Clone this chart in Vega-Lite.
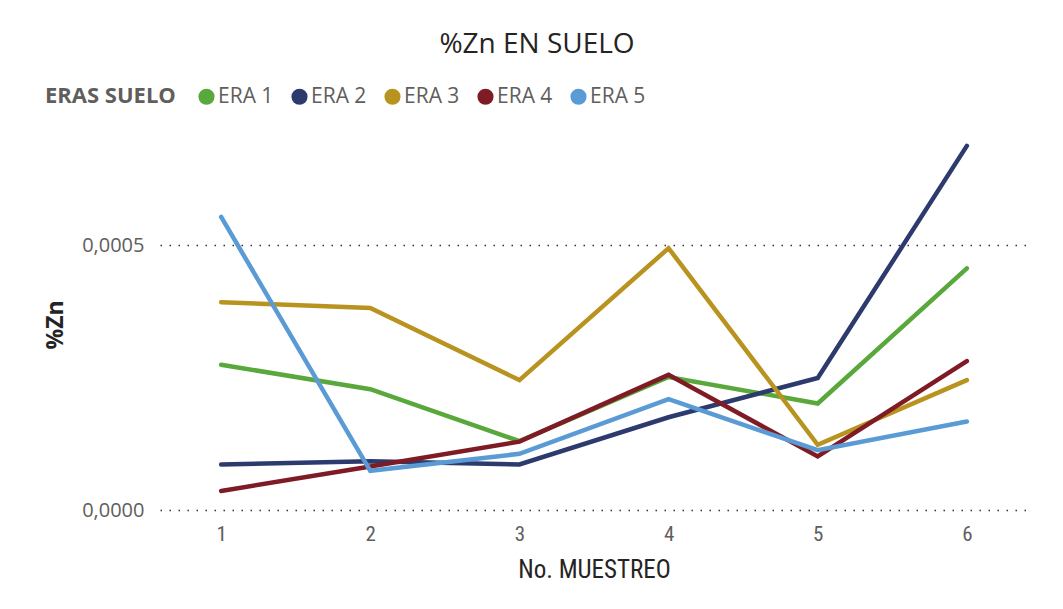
{
  "$schema": "https://vega.github.io/schema/vega-lite/v6.json",
  "width": 868,
  "height": 371,
  "autosize": {"type": "none"},
  "padding": {"left": 160, "top": 139, "right": 35, "bottom": 99},
  "background": "white",
  "title": {
    "text": "%Zn EN SUELO",
    "anchor": "middle",
    "dx": -57,
    "fontSize": 28,
    "font": "Open Sans",
    "fontWeight": "normal",
    "color": "#252423",
    "offset": 27
  },
  "data": {
    "values": [
      {"muestreo": "1", "era": "ERA 1", "zn": 0.000274},
      {"muestreo": "2", "era": "ERA 1", "zn": 0.000228},
      {"muestreo": "3", "era": "ERA 1", "zn": 0.000130},
      {"muestreo": "4", "era": "ERA 1", "zn": 0.000251},
      {"muestreo": "5", "era": "ERA 1", "zn": 0.000201},
      {"muestreo": "6", "era": "ERA 1", "zn": 0.000456},
      {"muestreo": "1", "era": "ERA 2", "zn": 0.000086},
      {"muestreo": "2", "era": "ERA 2", "zn": 0.000092},
      {"muestreo": "3", "era": "ERA 2", "zn": 0.000086},
      {"muestreo": "4", "era": "ERA 2", "zn": 0.000175},
      {"muestreo": "5", "era": "ERA 2", "zn": 0.000249},
      {"muestreo": "6", "era": "ERA 2", "zn": 0.000687},
      {"muestreo": "1", "era": "ERA 3", "zn": 0.000392},
      {"muestreo": "2", "era": "ERA 3", "zn": 0.000381},
      {"muestreo": "3", "era": "ERA 3", "zn": 0.000245},
      {"muestreo": "4", "era": "ERA 3", "zn": 0.000494},
      {"muestreo": "5", "era": "ERA 3", "zn": 0.000123},
      {"muestreo": "6", "era": "ERA 3", "zn": 0.000245},
      {"muestreo": "1", "era": "ERA 4", "zn": 0.000036},
      {"muestreo": "2", "era": "ERA 4", "zn": 0.000082},
      {"muestreo": "3", "era": "ERA 4", "zn": 0.000129},
      {"muestreo": "4", "era": "ERA 4", "zn": 0.000255},
      {"muestreo": "5", "era": "ERA 4", "zn": 0.000101},
      {"muestreo": "6", "era": "ERA 4", "zn": 0.000281},
      {"muestreo": "1", "era": "ERA 5", "zn": 0.000553},
      {"muestreo": "2", "era": "ERA 5", "zn": 0.000074},
      {"muestreo": "3", "era": "ERA 5", "zn": 0.000106},
      {"muestreo": "4", "era": "ERA 5", "zn": 0.000209},
      {"muestreo": "5", "era": "ERA 5", "zn": 0.000113},
      {"muestreo": "6", "era": "ERA 5", "zn": 0.000167}
    ]
  },
  "mark": {"type": "line", "strokeWidth": 4.5, "strokeCap": "round", "strokeJoin": "miter"},
  "encoding": {
    "x": {
      "field": "muestreo",
      "type": "ordinal",
      "scale": {"type": "point", "padding": 0.41},
      "axis": {
        "title": "No. MUESTREO",
        "labelAngle": 0,
        "domain": false,
        "ticks": false,
        "grid": false,
        "labelFontSize": 21,
        "labelColor": "#605E5C",
        "labelFont": "Liberation Sans Narrow, Roboto Condensed, Roboto",
        "labelPadding": 13,
        "titleFontSize": 25,
        "titleColor": "#252423",
        "titleFont": "Liberation Sans Narrow, Roboto Condensed, Roboto",
        "titleFontWeight": "normal",
        "titlePadding": 13
      }
    },
    "y": {
      "field": "zn",
      "type": "quantitative",
      "scale": {"domain": [0, 0.0007], "nice": false},
      "axis": {
        "title": "%Zn",
        "values": [0, 0.0005],
        "format": ".4f",
        "domain": false,
        "ticks": false,
        "grid": true,
        "gridColor": "#333333",
        "gridDash": [1.5, 7.5],
        "gridWidth": 1.5,
        "labelFontSize": 20,
        "labelColor": "#605E5C",
        "labelFont": "Open Sans",
        "labelPadding": 16,
        "titleFontSize": 23,
        "titleColor": "#252423",
        "titleFont": "Open Sans",
        "titleFontWeight": "bold",
        "titlePadding": 14
      }
    },
    "color": {
      "field": "era",
      "type": "nominal",
      "scale": {
        "domain": ["ERA 1", "ERA 2", "ERA 3", "ERA 4", "ERA 5"],
        "range": ["#59A83B", "#2C3A6E", "#B8931F", "#7F1B25", "#5B9BD5"]
      },
      "legend": {
        "title": "ERAS SUELO",
        "orient": "none",
        "legendX": -115,
        "legendY": -53,
        "direction": "horizontal",
        "titleOrient": "left",
        "titleBaseline": "middle",
        "titleFontSize": 22,
        "titleFont": "Open Sans",
        "titleFontWeight": "bold",
        "titleColor": "#605E5C",
        "titlePadding": 20,
        "labelFontSize": 21,
        "labelFont": "Open Sans",
        "labelColor": "#605E5C",
        "labelOffset": 1,
        "symbolType": "circle",
        "symbolSize": 260,
        "symbolStrokeWidth": 0,
        "symbolOpacity": 1,
        "columnPadding": 15,
        "symbolOffset": 0,
        "encode": {
          "symbols": {
            "update": {
              "fill": {"scale": "color", "field": "value"},
              "size": {"value": 260},
              "strokeWidth": {"value": 0}
            }
          }
        }
      }
    }
  },
  "config": {
    "view": {"stroke": null},
    "locale": {
      "number": {"decimal": ",", "thousands": ".", "grouping": [3], "currency": ["", " €"]}
    }
  }
}
